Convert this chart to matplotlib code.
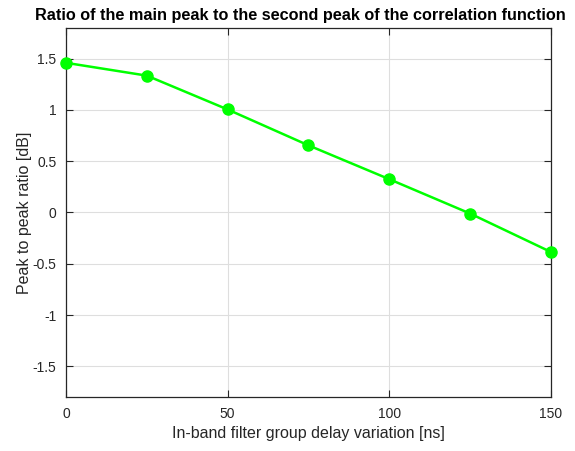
import matplotlib
matplotlib.use("Agg")
import matplotlib.pyplot as plt

delay_ns = [0, 25, 50, 75, 100, 125, 150]
ratio_db = [1.46, 1.335, 1.005, 0.655, 0.325, -0.01, -0.385]
xticks = [0, 50, 100, 150]
yticks = [-1.5, -1, -0.5, 0, 0.5, 1, 1.5]
yticklabels = ["-1.5", "-1", "-0.5", "0", "0.5", "1", "1.5"]

plt.rcParams['font.family'] = ['Liberation Sans', 'DejaVu Sans']

fig = plt.figure(figsize=(5.75, 4.51), dpi=100)
ax = fig.add_axes([0.1148, 0.1197, 0.8432, 0.8183])
ax.plot(delay_ns, ratio_db, color='#00ff00', lw=1.8, marker='o', ms=8, zorder=3, clip_on=False)
ax.set_xlim(0, 150)
ax.set_ylim(-1.8, 1.8)
ax.set_xticks(xticks)
ax.set_yticks(yticks)
ax.set_yticklabels(yticklabels)
ax.grid(True, color='#dedede', lw=0.8)
ax.set_axisbelow(True)
ax.tick_params(direction='in', top=True, right=True, labelsize=10, colors='#262626', length=5, width=0.8, pad=7)
for s in ax.spines.values():
    s.set_color('#262626')
    s.set_linewidth(0.9)
ax.set_xlabel('In-band filter group delay variation [ns]', fontsize=11.5, color='#262626')
ax.set_ylabel('Peak to peak ratio [dB]', fontsize=11.5, color='#262626', labelpad=0)
ax.set_title('Ratio of the main peak to the second peak of the correlation function',
             fontsize=11.7, fontweight='bold', color='black', pad=6, x=0.483)
fig.savefig('out.png', dpi=100)
